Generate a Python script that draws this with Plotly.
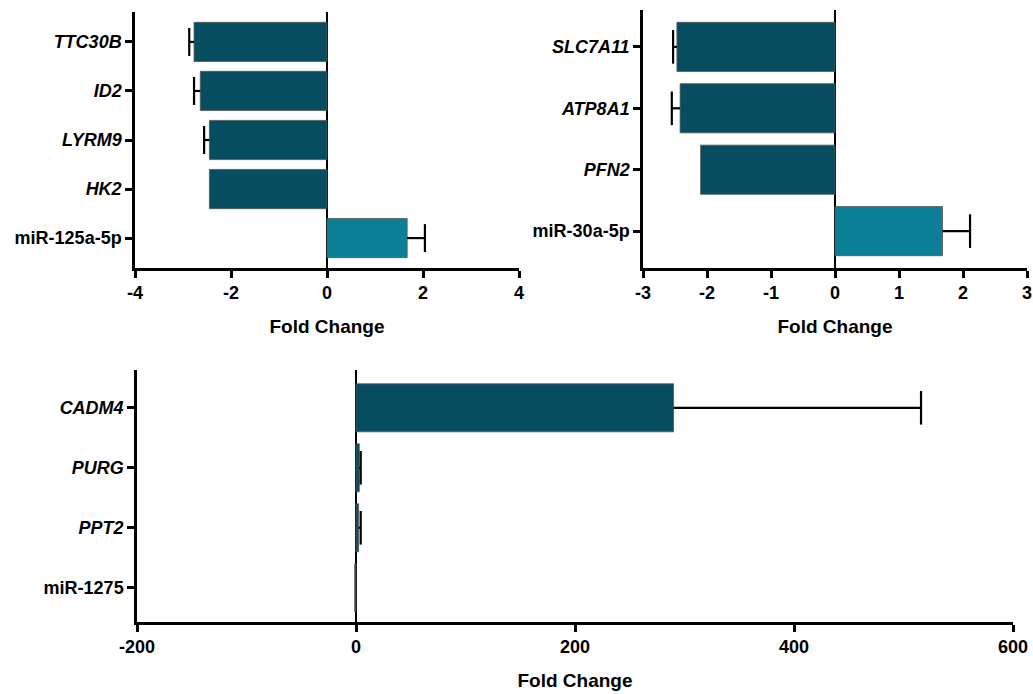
import plotly.graph_objects as go

# ---------------- data ----------------
# panel A (top-left)
a_labels = ["miR-125a-5p", "<i>HK2</i>", "<i>LYRM9</i>", "<i>ID2</i>", "<i>TTC30B</i>"]
a_values = [1.67, -2.45, -2.45, -2.64, -2.77]
a_errors = [0.37, 0.0, 0.11, 0.13, 0.10]
a_colors = ["#0B7F96", "#064E5F", "#064E5F", "#064E5F", "#064E5F"]
a_ticks = [-4, -2, 0, 2, 4]
a_ticktext = ["-4", "-2", "0", "2", "4"]

# panel B (top-right)
b_labels = ["miR-30a-5p", "<i>PFN2</i>", "<i>ATP8A1</i>", "<i>SLC7A11</i>"]
b_values = [1.68, -2.10, -2.42, -2.47]
b_errors = [0.43, 0.0, 0.13, 0.06]
b_colors = ["#0B7F96", "#064E5F", "#064E5F", "#064E5F"]
b_ticks = [-3, -2, -1, 0, 1, 2, 3]
b_ticktext = ["-3", "-2", "-1", "0", "1", "2", "3"]

# panel C (bottom)
c_labels = ["miR-1275", "<i>PPT2</i>", "<i>PURG</i>", "<i>CADM4</i>"]
c_values = [-1.2, 2.4, 3.0, 290.0]
c_errors = [0.0, 1.9, 1.3, 226.0]
c_colors = ["#064E5F", "#064E5F", "#064E5F", "#064E5F"]
c_ticks = [-200, 0, 200, 400, 600]
c_ticktext = ["-200", "0", "200", "400", "600"]

W, H = 1033, 694
FONT = "Liberation Sans, Arial, sans-serif"

fig = go.Figure()


def add_panel(labels, values, errors, colors, xa, ya, cap):
    plus = [e if v >= 0 else 0 for v, e in zip(values, errors)]
    minus = [e if v < 0 else 0 for v, e in zip(values, errors)]
    fig.add_trace(go.Bar(
        x=values, y=labels, orientation="h", width=0.8,
        marker=dict(color=colors, line=dict(color="#555555", width=0.8)),
        error_x=dict(type="data", symmetric=False, array=plus, arrayminus=minus,
                     color="black", thickness=2.2, width=0),
        xaxis=xa, yaxis=ya, showlegend=False,
    ))
    ends = [v + e if v >= 0 else v - e for v, e in zip(values, errors)]
    ex = [x for x, e in zip(ends, errors) if e > 0]
    ey = [l for l, e in zip(labels, errors) if e > 0]
    fig.add_trace(go.Scatter(
        x=ex, y=ey, mode="markers",
        marker=dict(symbol="line-ns", size=cap, line=dict(color="black", width=2.2)),
        xaxis=xa, yaxis=ya, showlegend=False, hoverinfo="skip",
    ))


add_panel(a_labels, a_values, a_errors, a_colors, "x", "y", 20)
add_panel(b_labels, b_values, b_errors, b_colors, "x2", "y2", 24)
add_panel(c_labels, c_values, c_errors, c_colors, "x3", "y3", 24)


def px_x(p):
    return p / W


def px_y(p):
    return 1 - p / H


tickfont = dict(family=FONT, size=18, color="black", weight="bold")
titlefont = dict(family=FONT, size=19, color="black", weight="bold")

common_x = dict(
    showline=True, linecolor="black", linewidth=2.5, ticks="outside", ticklen=7,
    tickwidth=2.5, tickcolor="black", showgrid=False, zeroline=True,
    zerolinecolor="black", zerolinewidth=2, tickfont=tickfont,
    title=dict(text="Fold Change", font=titlefont, standoff=18),
    automargin=False,
)
common_y = dict(
    showline=True, linecolor="black", linewidth=2.5, ticks="outside", ticklen=7,
    tickwidth=2.5, tickcolor="black", showgrid=False, zeroline=False,
    tickfont=tickfont, type="category", automargin=False,
)

fig.update_layout(
    width=W, height=H, margin=dict(l=0, r=0, t=0, b=0),
    paper_bgcolor="white", plot_bgcolor="white",
    font=dict(family=FONT, color="black"),
    bargap=0.2,
    xaxis=dict(common_x, domain=[px_x(135), px_x(519)], range=[-4, 4],
               tickvals=a_ticks, ticktext=a_ticktext, anchor="y"),
    yaxis=dict(common_y, domain=[px_y(268), px_y(12)], range=[-0.61, 4.61],
               anchor="x"),
    xaxis2=dict(common_x, domain=[px_x(643), px_x(1027)], range=[-3, 3],
                tickvals=b_ticks, ticktext=b_ticktext, anchor="y2"),
    yaxis2=dict(common_y, domain=[px_y(268), px_y(10)], range=[-0.6, 3.6],
                anchor="x2"),
    xaxis3=dict(common_x, domain=[px_x(137), px_x(1013)], range=[-200, 600],
                tickvals=c_ticks, ticktext=c_ticktext, anchor="y3"),
    yaxis3=dict(common_y, domain=[px_y(622), px_y(370)], range=[-0.57, 3.63],
                anchor="x3"),
)

fig.write_html(
    "out.html",
    config={"displayModeBar": False},
    post_script="document.body.style.margin='0';document.body.style.overflow='hidden';",
)
